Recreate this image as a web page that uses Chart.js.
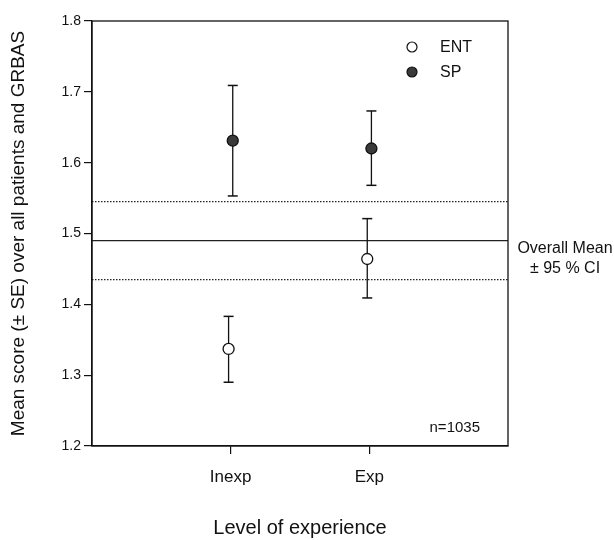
<!DOCTYPE html>
<html>
<head>
<meta charset="utf-8">
<script src="https://cdn.jsdelivr.net/npm/chart.js@4/dist/chart.umd.min.js"></script>
<style>
  html, body { margin: 0; padding: 0; background: #fff; }
  #wrap { width: 614px; height: 540px; }
</style>
</head>
<body>
<div id="wrap"><canvas id="chart" width="614" height="540"></canvas></div>
<script>
// categories on the x axis (placed at 1 and 2 on a 0..3 axis)
const categories = ['Inexp', 'Exp'];
const catPos = [1, 2];

// ENT (open circles)
const entMean = [1.337, 1.464];
const entLow  = [1.290, 1.409];
const entHigh = [1.383, 1.521];

// SP (filled circles)
const spMean = [1.631, 1.620];
const spLow  = [1.553, 1.568];
const spHigh = [1.709, 1.673];

// overall mean and 95% CI
const overallMean = 1.490;
const ciLow = 1.435;
const ciHigh = 1.545;

const yTicks = [1.2, 1.3, 1.4, 1.5, 1.6, 1.7, 1.8];

const font = 'Liberation Sans, Arial, Helvetica, sans-serif';

function errorBars(low, high, dx) {
  return catPos.map((x, i) => ({
    type: 'line',
    data: [{ x: x + dx, y: low[i] }, { x: x + dx, y: high[i] }],
    borderColor: '#111',
    borderWidth: 1.3,
    pointStyle: 'line',
    pointRadius: 5,
    pointBorderColor: '#111',
    pointBorderWidth: 1.5,
    showLine: true,
    order: 5
  }));
}

function hLine(v, dash) {
  return {
    type: 'line',
    data: [{ x: 0, y: v }, { x: 3, y: v }],
    borderColor: '#222',
    borderWidth: dash ? 1.2 : 1.3,
    borderDash: dash ? [1.5, 1.5] : [],
    pointRadius: 0,
    showLine: true,
    order: 6
  };
}

const datasets = [
  hLine(overallMean, false),
  hLine(ciLow, true),
  hLine(ciHigh, true),
  ...errorBars(entLow, entHigh, -0.015),
  ...errorBars(spLow, spHigh, 0.015),
  {
    label: 'ENT',
    data: catPos.map((x, i) => ({ x: x - 0.015, y: entMean[i] })),
    pointRadius: 5.5,
    pointBackgroundColor: '#fff',
    pointBorderColor: '#111',
    pointBorderWidth: 1.3,
    showLine: false,
    order: 1
  },
  {
    label: 'SP',
    data: catPos.map((x, i) => ({ x: x + 0.015, y: spMean[i] })),
    pointRadius: 5.5,
    pointBackgroundColor: '#3a3a3a',
    pointBorderColor: '#111',
    pointBorderWidth: 1.3,
    showLine: false,
    order: 1
  }
];

const frameAndText = {
  id: 'frameAndText',
  afterDraw(chart) {
    const ctx = chart.ctx;
    const a = chart.chartArea;
    ctx.save();
    ctx.strokeStyle = '#111';
    ctx.lineWidth = 1.3;
    ctx.strokeRect(a.left, a.top, a.right - a.left, a.bottom - a.top);

    // legend
    ctx.font = '16px ' + font;
    ctx.textBaseline = 'middle';
    ctx.textAlign = 'left';
    const lx = a.left + 320;
    [['ENT', '#fff', a.top + 26], ['SP', '#3a3a3a', a.top + 51]].forEach(([t, fill, y]) => {
      ctx.beginPath();
      ctx.arc(lx, y, 5, 0, Math.PI * 2);
      ctx.fillStyle = fill;
      ctx.fill();
      ctx.lineWidth = 1.2;
      ctx.strokeStyle = '#111';
      ctx.stroke();
      ctx.fillStyle = '#111';
      ctx.fillText(t, lx + 28, y + 1);
    });

    ctx.font = '15px ' + font;
    ctx.textAlign = 'right';
    ctx.fillText('n=1035', a.right - 28, a.bottom - 18);

    ctx.font = '16px ' + font;
    ctx.textAlign = 'center';
    ctx.fillText('Overall Mean', 565, 249);
    ctx.fillText('\u00b1 95 % CI', 565, 269);
    ctx.restore();
  }
};

new Chart(document.getElementById('chart'), {
  type: 'scatter',
  data: { datasets },
  options: {
    responsive: false,
    animation: false,
    layout: { padding: { top: 21, right: 106, bottom: 0, left: 0 } },
    plugins: {
      legend: { display: false },
      tooltip: { enabled: false }
    },
    scales: {
      x: {
        type: 'linear',
        min: 0,
        max: 3,
        afterBuildTicks: s => { s.ticks = catPos.map(v => ({ value: v })); },
        afterFit: s => { s.height = 94; },
        ticks: {
          callback: v => categories[catPos.indexOf(v)] || '',
          color: '#111',
          font: { family: font, size: 17 },
          padding: 13
        },
        grid: { drawOnChartArea: false, drawTicks: true, tickLength: 8, color: '#111', lineWidth: 1.2 },
        border: { display: true, color: '#111', width: 1.3 },
        title: {
          display: true,
          text: 'Level of experience',
          color: '#111',
          font: { family: font, size: 20 },
          padding: { top: 0, bottom: 0 }
        }
      },
      y: {
        min: 1.2,
        max: 1.8,
        afterBuildTicks: s => { s.ticks = yTicks.map(v => ({ value: v })); },
        afterFit: s => { s.width = 92; },
        ticks: {
          callback: v => v.toFixed(1),
          color: '#111',
          font: { family: font, size: 14 },
          padding: 3
        },
        grid: { drawOnChartArea: false, drawTicks: true, tickLength: 8, color: '#111', lineWidth: 1.2 },
        border: { display: true, color: '#111', width: 1.3 },
        title: {
          display: true,
          text: 'Mean score (\u00b1 SE) over all patients and GRBAS',
          color: '#111',
          font: { family: font, size: 19 },
          padding: { top: 7, bottom: 0 }
        }
      }
    }
  },
  plugins: [frameAndText]
});
</script>
</body>
</html>
